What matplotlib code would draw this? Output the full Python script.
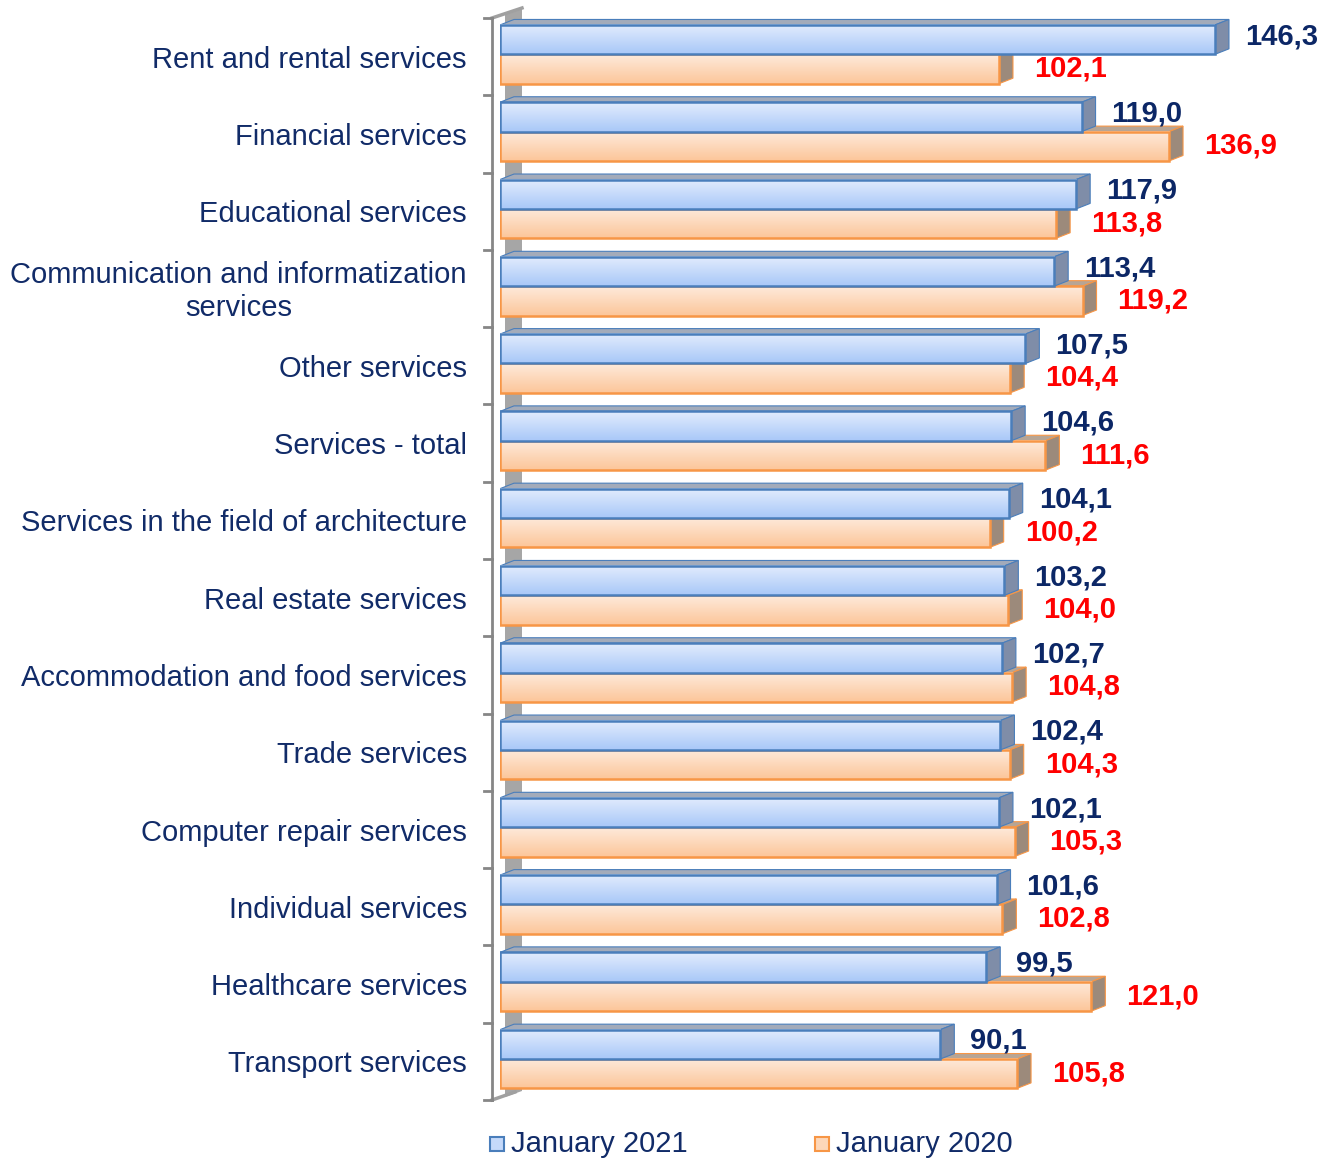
import numpy as np
import matplotlib
matplotlib.use('Agg')
import matplotlib.pyplot as plt
from matplotlib.patches import Polygon, Rectangle

plt.rcParams['font.family'] = ['Liberation Sans', 'DejaVu Sans']

# data
categories = ['Rent and rental services', 'Financial services', 'Educational services',
              'Communication and informatization\nservices', 'Other services', 'Services - total',
              'Services in the field of architecture', 'Real estate services',
              'Accommodation and food services', 'Trade services', 'Computer repair services',
              'Individual services', 'Healthcare services', 'Transport services']
jan2021 = [146.3, 119.0, 117.9, 113.4, 107.5, 104.6, 104.1, 103.2, 102.7, 102.4, 102.1, 101.6, 99.5, 90.1]
jan2020 = [102.1, 136.9, 113.8, 119.2, 104.4, 111.6, 100.2, 104.0, 104.8, 104.3, 105.3, 102.8, 121.0, 105.8]
series_names = ['January 2021', 'January 2020']

W, H = 1330, 1159
SX = 4.887      # px per unit on x
SY = 77.3       # px per category
dx = 14 / SX    # 3d depth
dy = 5.5 / SY

fig = plt.figure(figsize=(W / 100, H / 100), dpi=100)
ax = fig.add_axes([500 / W, 1 - 1100 / H, 830 / W, 1082 / H])
ax.axis('off')

navy = '#0c2766'
lab_col = '#112b68'

def grad(c1, c2):
    a = np.array(matplotlib.colors.to_rgb(c1))
    b = np.array(matplotlib.colors.to_rgb(c2))
    t = np.linspace(0, 1, 32)[:, None]
    return (a * (1 - t) + b * t)[:, None, :]

styles = {
    'b': dict(g=grad('#e2ecfd', '#a9c8f8'), edge='#4a7ebb', top='#a3abba', side='#7f8da8'),
    'o': dict(g=grad('#feeadb', '#fcc69a'), edge='#f79646', top='#b7a595', side='#9c8a7b'),
}

# side wall + axis
x_ax = -8 / SX
ax.add_patch(Polygon([(5 / SX, -4.3 / SY), (22 / SX, -10 / SY), (22 / SX, 14 - 9 / SY), (5 / SX, 14 - 3 / SY)],
                     closed=True, facecolor='#a6a6a6', edgecolor='none', zorder=1, clip_on=False))
ax.plot([x_ax, 22 / SX], [0, -10 / SY], color='#a0a0a0', lw=2.5, zorder=2, clip_on=False)
ax.plot([x_ax, 15 / SX], [14, 14 - 8 / SY], color='#a0a0a0', lw=2.5, zorder=2, clip_on=False)
ax.plot([x_ax, x_ax], [0, 14], color='#868686', lw=2, zorder=2, clip_on=False)
for k in range(len(categories) + 1):
    ax.plot([x_ax - 8 / SX, x_ax], [k, k], color='#868686', lw=2, zorder=2, clip_on=False)


def bar3d(v, y0, y1, st, z):
    ax.add_patch(Polygon([(0, y0), (dx, y0 - dy), (v + dx, y0 - dy), (v, y0)], closed=True,
                         facecolor=st['top'], edgecolor=st['edge'], lw=0.8, zorder=z))
    ax.add_patch(Polygon([(v, y0), (v + dx, y0 - dy), (v + dx, y1 - dy), (v, y1)], closed=True,
                         facecolor=st['side'], edgecolor=st['edge'], lw=0.8, zorder=z))
    ax.imshow(st['g'], extent=(0, v, y1, y0), aspect='auto', zorder=z + 1, interpolation='bilinear')
    ax.add_patch(Rectangle((0, y0), v, y1 - y0, facecolor='none', edgecolor=st['edge'], lw=1.8, zorder=z + 2))


for i, (cat, vb, vo) in enumerate(zip(categories, jan2021, jan2020)):
    z = 10 + i * 10
    yb0, yb1 = i + 0.09, i + 0.47
    yo0, yo1 = i + 0.47, i + 0.85
    bar3d(vo, yo0, yo1, styles['o'], z)
    bar3d(vb, yb0, yb1, styles['b'], z + 4)
    ax.text(vb + dx + 16 / SX, i + 0.235, f'{vb:.1f}'.replace('.', ','),
            color=navy, fontsize=21, fontweight='bold', ha='left', va='center', zorder=200)
    ax.text(vo + dx + 21 / SX, i + 0.655, f'{vo:.1f}'.replace('.', ','),
            color='#ff0000', fontsize=21, fontweight='bold', ha='left', va='center', zorder=200)
    ax.text(-33 / SX, i + 0.54, cat, color=lab_col, fontsize=21, ha='right', va='center',
            multialignment='center', linespacing=1.2)

ax.set_xlim(0, 830 / SX)
ax.set_ylim(len(categories), 0)

# legend
leg_x = [490, 815]
for (lx, name, st) in zip(leg_x, series_names, [styles['b'], styles['o']]):
    c = st['g'][len(st['g']) // 2, 0]
    fig.patches.append(Rectangle((lx / W, 1 - 1151 / H), 14 / W, 14 / H, transform=fig.transFigure,
                                 facecolor=c, edgecolor=st['edge'], lw=1.5))
    fig.text((lx + 21) / W, 1 - 1144 / H, name, color=lab_col, fontsize=21, ha='left', va='center')

fig.savefig('out.png', dpi=100)
